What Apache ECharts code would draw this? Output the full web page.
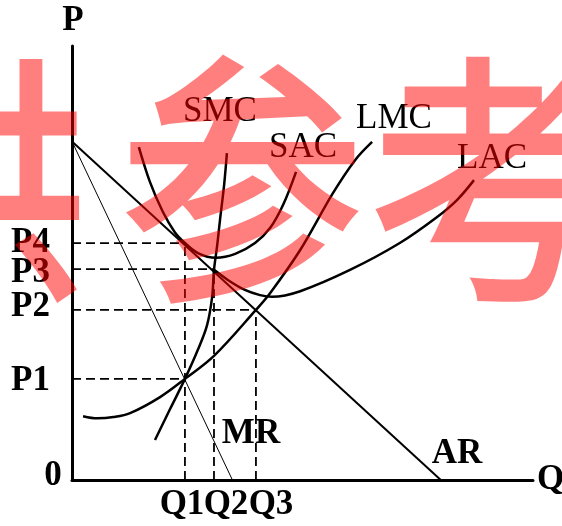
<!DOCTYPE html>
<html><head><meta charset="utf-8">
<script src="https://cdn.jsdelivr.net/npm/echarts/dist/echarts.min.js"></script>
<style>html,body{margin:0;padding:0;background:#fff}#c{width:562px;height:526px}</style>
</head><body><div id="c"></div>
<script>
// Equilibrium quantities and prices (chart units, axis 0..100)
const qNames = ['Q1', 'Q2', 'Q3'];
const qValues = [24.5, 30.8, 39.9];
const pNames = ['P1', 'P2', 'P3', 'P4'];
const pValues = [23.3, 39.2, 48.6, 54.6];

// Demand / revenue lines
const arPoints = [[0, 78], [80, 0]];
const mrPoints = [[0, 78], [34.8, 0]];

// Cost curves
const smcPoints = [[18.0, 9.2], [21.3, 16.4], [24.5, 23.3], [27.3, 30.0], [29.3, 35.7], [30.4, 42.2], [30.8, 48.4], [31.5, 54.1], [32.1, 59.9], [33.0, 68.0], [33.6, 75.3]];
const sacPoints = [[14.5, 76.7], [16.9, 68.7], [19.7, 61.8], [22.3, 57.1], [24.5, 54.6], [27.3, 52.3], [31.2, 51.2], [35.4, 52.1], [39.7, 54.6], [43.0, 58.1], [45.8, 63.4], [48.6, 71.0]];
const lacPoints = [[30.6, 48.6], [33.8, 46.1], [37.5, 43.8], [40.8, 42.6], [43.4, 42.2], [49.5, 43.5], [60.3, 48.4], [71.1, 54.6], [79.2, 60.6], [83.5, 64.5], [87.2, 69.1]];
const lmcPoints = [[2.4, 14.7], [5.5, 14.2], [9.0, 14.5], [12.6, 15.4], [19.1, 19.1], [24.5, 23.3], [30.8, 28.6], [39.9, 39.2], [43.0, 43.1], [49.5, 53.0], [56.6, 66.1], [61.4, 73.7], [65.1, 77.9]];

// Dashed guides: [quantity index, price index]
const hGuides = [[0, 0], [2, 1], [1, 2], [0, 3]];
const vGuides = [[0, 3], [1, 2], [2, 1]];

const curveLabels = ['SMC', 'SAC', 'LMC', 'LAC', 'MR', 'AR'];
const watermarkLeft = '仅供';
const watermarkRight = '参考';

const chart = echarts.init(document.getElementById('c'), null, {renderer: 'canvas'});

function curve(data, w) {
  return {type: 'line', data: data, symbol: 'none', smooth: 0.35, silent: true,
    lineStyle: {color: '#000', width: w}, z: 3};
}
function straight(data, w) {
  return {type: 'line', data: data, symbol: 'none', silent: true, lineStyle: {color: '#000', width: w}, z: 3};
}
const dash = {color: '#000', width: 1.8, type: [9, 5]};
const series = [];
hGuides.forEach(function (g) {
  series.push({type: 'line', data: [[0, pValues[g[1]]], [qValues[g[0]], pValues[g[1]]]], symbol: 'none', silent: true, lineStyle: dash, z: 2});
});
vGuides.forEach(function (g) {
  series.push({type: 'line', data: [[qValues[g[0]], 0], [qValues[g[0]], pValues[g[1]]]], symbol: 'none', silent: true, lineStyle: dash, z: 2});
});
series.push(straight(arPoints, 2));
series.push(straight(mrPoints, 1));
series.push(curve(smcPoints, 2.5));
series.push(curve(sacPoints, 2.5));
series.push(curve(lacPoints, 2.5));
series.push(curve(lmcPoints, 2.5));

const serifB = 'bold 35px "Liberation Serif", "Times New Roman", serif';
const serifR = '35px "Liberation Serif", "Times New Roman", serif';
function txt(t, x, y, font, align) {
  return {type: 'text', x: x, y: y, z: 10, silent: true,
    style: {text: t, font: font, fill: '#000', align: align || 'center', verticalAlign: 'middle'}};
}
const pLabelY = [381, 307, 273, 243];
const qLabelX = [182, 226, 271];
const graphics = [];
graphics.push(txt('P', 73, 21, serifB));
graphics.push(txt('Q', 537, 480, serifB, 'left'));
graphics.push(txt('0', 53, 476, serifB));
pNames.forEach(function (n, i) { graphics.push(txt(n, 50, pLabelY[i], serifB, 'right')); });
qNames.forEach(function (n, i) { graphics.push(txt(n, qLabelX[i], 505, serifB)); });
const curvePos = [[220, 112, serifR], [303, 148, serifR], [394, 119, serifR], [492, 159, serifR], [251, 434, serifB], [457, 454, serifB]];
curveLabels.forEach(function (n, i) { graphics.push(txt(n, curvePos[i][0], curvePos[i][1], curvePos[i][2])); });
const wmFont = '500 248px "Noto Sans CJK SC", sans-serif';
graphics.push({type: 'text', x: 88, y: 180, scaleY: 1.07, z: 100, silent: true,
  style: {text: watermarkLeft, font: wmFont, fill: 'rgba(255,0,0,0.5)', align: 'right', verticalAlign: 'middle'}});
graphics.push({type: 'text', x: 118, y: 180, scaleY: 1.07, z: 100, silent: true,
  style: {text: watermarkRight, font: wmFont, fill: 'rgba(255,0,0,0.5)', align: 'left', verticalAlign: 'middle'}});

chart.setOption({
  animation: false,
  backgroundColor: '#fff',
  grid: {left: 72, top: 46, width: 461, height: 434},
  xAxis: {type: 'value', min: 0, max: 100, axisLine: {show: true, lineStyle: {color: '#000', width: 3}},
    axisTick: {show: false}, axisLabel: {show: false}, splitLine: {show: false}},
  yAxis: {type: 'value', min: 0, max: 100, axisLine: {show: true, lineStyle: {color: '#000', width: 3}},
    axisTick: {show: false}, axisLabel: {show: false}, splitLine: {show: false}},
  series: series,
  graphic: graphics
});
</script></body></html>
